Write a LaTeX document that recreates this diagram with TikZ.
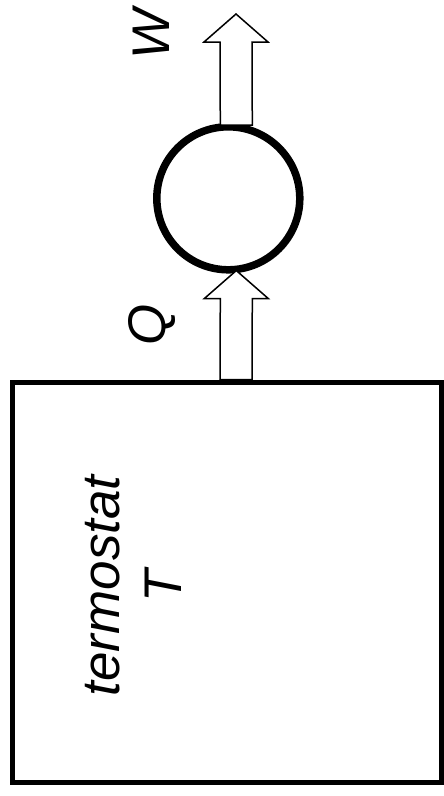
\documentclass[tikz,border=0pt]{standalone}
\usepackage{fontspec}
\setmainfont{Liberation Sans}
\usetikzlibrary{calc}

\tikzset{
  flow/.style={draw=black, fill=white, line width=1.5pt, line join=miter},
  lbl/.style={font=\fontsize{53}{62}\selectfont\itshape, rotate=90, inner sep=0pt},
}
\newcommand{\heatarrow}[2]{%
  \draw[flow] ($(#1)+(-16,0)$) -- ($(#2)+(-16,28)$) -- ($(#2)+(-32,28)$) -- (#2)
    -- ($(#2)+(32,28)$) -- ($(#2)+(16,28)$) -- ($(#1)+(16,0)$) -- cycle;}

\begin{document}
\begin{tikzpicture}[x=1pt, y=-1pt]
  \useasboundingbox (0,0) rectangle (444,796);

  % 热源
  \node[draw, line width=5pt, minimum width=429pt, minimum height=400pt, inner sep=0pt]
    (thermostat) at (226.5,582) {};
  \node[lbl, align=center] (thermolabel) at (133,586) {termostat\\T};

  % 热机
  \node[circle, draw, line width=7.5pt, minimum size=143pt, inner sep=0pt]
    (engine) at (228.3,198.3) {};

  % 热流 Q 与功 W
  \coordinate (qbase) at ($(thermostat.north)+(9.5,0)$);
  \coordinate (qtip) at ($(engine.south)+(8,-3)$);
  \coordinate (wbase) at ($(engine.north)+(8,2)$);
  \coordinate (work) at (236,14);
  \heatarrow{qbase}{qtip}
  \heatarrow{wbase}{work}

  \node[lbl] (heat) at (152,325) {Q};
  \node[lbl] (worklabel) at (151,34) {W};
\end{tikzpicture}
\end{document}
